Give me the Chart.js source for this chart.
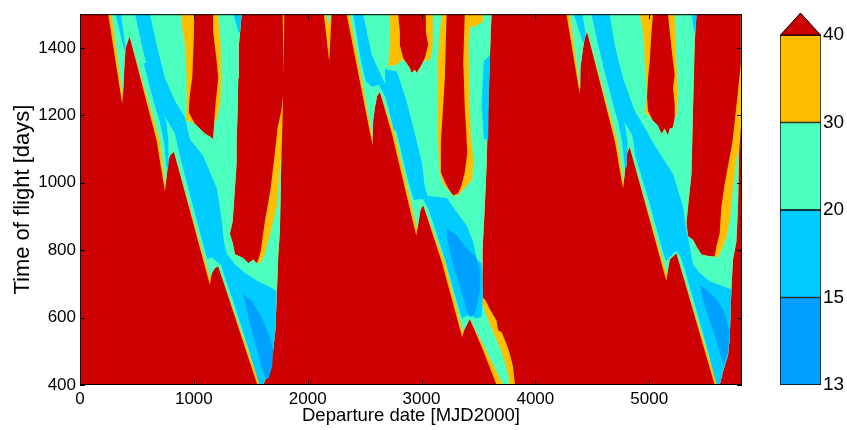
<!DOCTYPE html>
<html>
<head>
<meta charset="utf-8">
<script src="https://cdn.jsdelivr.net/npm/chart.js@4.4.0/dist/chart.umd.min.js"></script>
<style>
  html, body { margin: 0; padding: 0; background: #fff; }
  #quadro { position: relative; width: 847px; height: 430px; }
  #mapa { position: absolute; left: 0; top: 0; }
  #barraCores { position: absolute; left: 770px; top: 0; }
</style>
</head>
<body>
<div id="quadro">
  <canvas id="mapa" width="847" height="430" style="width:847px;height:430px"></canvas>
  <canvas id="barraCores" width="77" height="430" style="width:77px;height:430px"></canvas>
</div>
<script>
// Eixos
const ticksPartida = [0, 1000, 2000, 3000, 4000, 5000];
const ticksVoo = [400, 600, 800, 1000, 1200, 1400];
const niveis = ['13', '15', '20', '30', '40'];

// Contornos: [data de partida (MJD2000), tempo de voo (dias)]
// Janela 1
const j1Abaixo40 = [[248,1500],[371,1233],[389,1340],[400,1399],[435,1434],[673,1125],[746,973],[775,1061],[790,1081],[825,1092],[1141,697],[1156,729],[1185,747],[1214,752],[1558,400],[1609,400],[1639,423],[1677,465],[1697,503],[1716,562],[1727,650],[1741,782],[1756,855],[1765,1002],[1771,1090],[1785,1261],[1769,1214],[1736,1164],[1712,1090],[1674,982],[1624,885],[1587,796],[1567,773],[1551,761],[1522,772],[1478,761],[1434,777],[1361,788],[1343,820],[1317,849],[1341,885],[1361,982],[1376,1061],[1376,1125],[1385,1214],[1390,1311],[1396,1410],[1407,1449],[1420,1500],[1170,1500],[1170,1449],[1200,1361],[1214,1311],[1191,1234],[1179,1184],[1170,1129],[1141,1137],[1098,1145],[1054,1160],[1010,1174],[957,1208],[957,1223],[966,1263],[986,1311],[998,1410],[1004,1500]];
const j1Fio40 = [[1780,1500],[1794,1500],[1790,1320],[1786,1320]];
const j1Abaixo30 = [[277,1500],[378,1252],[389,1340],[400,1399],[435,1434],[700,1125],[751,990],[775,1061],[790,1081],[825,1092],[1146,714],[1156,729],[1185,747],[1214,752],[1580,400],[1602,400],[1639,423],[1677,465],[1697,503],[1716,562],[1727,650],[1741,782],[1756,855],[1765,1002],[1768,1081],[1752,1031],[1727,929],[1686,870],[1653,826],[1616,782],[1580,761],[1551,761],[1522,772],[1478,761],[1434,777],[1361,788],[1343,820],[1317,849],[1341,885],[1361,982],[1376,1061],[1376,1125],[1385,1214],[1390,1311],[1396,1410],[1407,1449],[1420,1500],[1212,1500],[1225,1457],[1234,1410],[1242,1311],[1232,1234],[1203,1193],[1181,1178],[1170,1129],[1141,1137],[1098,1145],[1054,1160],[1010,1174],[957,1184],[928,1184],[937,1222],[937,1311],[922,1410],[898,1457],[887,1500]];
const j1Abaixo20a = [[312,1500],[360,1500],[400,1407],[391,1390]];
const j1Abaixo20b = [[558,1355],[650,1237],[702,1178],[738,1120],[759,1046],[777,1046],[777,1120],[761,1178],[702,1237],[597,1355]];
const j1Abaixo20c = [[483,1500],[542,1409],[615,1311],[717,1213],[834,1145],[860,1105],[887,1067],[983,943],[1099,796],[1119,773],[1159,779],[1214,763],[1242,755],[1260,732],[1345,650],[1484,503],[1576,400],[1609,400],[1639,423],[1677,465],[1697,503],[1716,562],[1725,650],[1725,679],[1686,688],[1563,708],[1449,732],[1361,758],[1291,788],[1264,826],[1247,885],[1203,982],[1080,1081],[966,1129],[922,1194],[834,1243],[746,1311],[673,1409],[615,1500]];
const j1Abaixo20d = [[1346,1500],[1420,1500],[1407,1449],[1396,1443]];
const j1Abaixo15 = [[1434,669],[1493,581],[1566,493],[1609,434],[1633,418],[1659,421],[1688,454],[1697,503],[1668,542],[1595,601],[1508,650]];

// Janela 2
const j2Fio40 = [[2142,1500],[2210,1500],[2189,1360]];
const j2Fio30 = [[2164,1500],[2204,1500],[2186,1466]];
const j2Abaixo40 = [[2342,1500],[2570,1110],[2575,1183],[2590,1222],[2610,1257],[2634,1269],[2737,1149],[2954,843],[2979,894],[2991,919],[3014,934],[3176,767],[3357,542],[3380,567],[3409,586],[3424,596],[3541,503],[3659,400],[3828,400],[3819,405],[3804,454],[3775,493],[3746,522],[3703,557],[3673,562],[3659,591],[3600,625],[3565,650],[3541,659],[3527,689],[3536,738],[3536,796],[3541,832],[3556,929],[3571,1046],[3585,1222],[3600,1369],[3615,1500],[3380,1500],[3372,1419],[3367,1355],[3380,1222],[3393,1149],[3402,1090],[3380,1031],[3351,992],[3322,968],[3278,963],[3234,984],[3205,1002],[3170,1031],[3170,1120],[3187,1213],[3205,1310],[3213,1410],[3220,1500],[3038,1500],[3038,1448],[3058,1409],[3029,1370],[2985,1341],[2956,1326],[2941,1336],[2912,1326],[2897,1341],[2839,1370],[2810,1409],[2810,1448],[2795,1500]];
const j2Abaixo30 = [[2368,1500],[2573,1128],[2575,1183],[2590,1222],[2610,1257],[2634,1269],[2761,1149],[2963,861],[2979,894],[2991,919],[3014,934],[3202,767],[3363,559],[3380,567],[3409,586],[3424,596],[3565,503],[3717,400],[3767,400],[3767,421],[3732,468],[3696,503],[3657,535],[3613,570],[3565,612],[3530,644],[3525,673],[3527,689],[3536,738],[3536,796],[3541,832],[3556,929],[3571,1046],[3585,1222],[3600,1369],[3615,1500],[3541,1500],[3541,1478],[3477,1466],[3424,1460],[3415,1413],[3420,1237],[3433,1143],[3459,1061],[3442,1008],[3367,979],[3322,963],[3278,961],[3234,979],[3187,996],[3161,1026],[3148,1090],[3139,1149],[3139,1237],[3143,1355],[3161,1443],[3178,1500],[3102,1500],[3099,1410],[3082,1372],[3055,1360],[3029,1366],[2985,1340],[2956,1325],[2941,1335],[2912,1325],[2897,1340],[2839,1366],[2775,1349],[2709,1346],[2722,1410],[2722,1500]];
const j2Abaixo20a = [[2400,1500],[2471,1355],[2511,1302],[2564,1284],[2625,1290],[2687,1252],[2757,1155],[2818,1155],[2739,1252],[2660,1308],[2564,1378],[2487,1500]];
const j2Abaixo20b = [[2678,1337],[2687,1252],[2781,1149],[2885,1002],[2933,949],[3012,952],[3060,923],[3140,841],[3211,767],[3282,679],[3354,597],[3424,609],[3477,597],[3527,601],[3541,669],[3536,738],[3527,761],[3486,773],[3453,826],[3395,875],[3307,914],[3222,955],[3055,961],[3029,987],[3003,1061],[2956,1125],[2868,1243],[2783,1331]];
const j2Abaixo20c = [[3547,1360],[3602,1378],[3591,1237],[3585,1125],[3547,1131],[3527,1237]];
const j2Abaixo15 = [[3220,866],[3231,826],[3249,796],[3293,738],[3351,679],[3395,625],[3424,601],[3459,608],[3483,630],[3512,679],[3512,738],[3483,777],[3395,806],[3307,845]];

// Janela 3
const j3Abaixo40 = [[4273,1500],[4390,1262],[4396,1341],[4419,1399],[4434,1429],[4454,1448],[4697,1125],[4770,982],[4785,1026],[4800,1085],[4829,1105],[5151,708],[5180,772],[5239,791],[5575,400],[5619,400],[5648,439],[5692,488],[5707,537],[5722,684],[5736,772],[5766,826],[5780,929],[5790,1090],[5817,1222],[5817,1500],[5804,1500],[5804,1354],[5777,1263],[5733,1125],[5698,1061],[5663,997],[5634,929],[5619,850],[5590,811],[5575,782],[5531,782],[5459,787],[5415,811],[5385,831],[5341,841],[5327,880],[5341,929],[5371,1026],[5385,1222],[5400,1418],[5415,1500],[5165,1500],[5180,1448],[5209,1360],[5224,1321],[5209,1282],[5224,1233],[5224,1194],[5209,1164],[5180,1160],[5165,1140],[5136,1160],[5107,1145],[5077,1169],[5033,1184],[4990,1213],[4981,1253],[4990,1311],[5005,1360],[5020,1448],[5033,1500]];
const j3Abaixo30 = [[4300,1500],[4394,1278],[4396,1341],[4419,1399],[4434,1429],[4454,1448],[4719,1125],[4775,999],[4785,1026],[4800,1085],[4829,1105],[5156,726],[5180,772],[5239,791],[5597,400],[5619,400],[5648,439],[5692,488],[5707,537],[5722,684],[5736,772],[5766,826],[5780,929],[5789,1105],[5760,1061],[5733,973],[5712,899],[5681,840],[5637,802],[5602,779],[5531,782],[5459,787],[5415,811],[5385,831],[5341,841],[5327,880],[5341,929],[5371,1026],[5385,1222],[5400,1418],[5415,1500],[5224,1500],[5239,1360],[5253,1263],[5242,1202],[5224,1190],[5209,1164],[5180,1160],[5165,1140],[5136,1160],[5107,1145],[5077,1169],[5033,1184],[4990,1202],[4961,1208],[4981,1262],[4961,1360],[4946,1448],[4917,1500]];
const j3Abaixo20a = [[4337,1500],[4414,1500],[4443,1437],[4421,1413]];
const j3Abaixo20b = [[4588,1355],[4680,1237],[4728,1178],[4763,1120],[4785,1046],[4803,1046],[4811,1120],[4785,1178],[4732,1237],[4627,1355]];
const j3Abaixo20c = [[4493,1500],[4551,1409],[4624,1311],[4726,1213],[4844,1145],[4864,1120],[4873,1084],[5000,943],[5119,796],[5149,767],[5189,782],[5239,799],[5277,779],[5316,738],[5391,650],[5514,503],[5593,400],[5619,400],[5648,439],[5692,488],[5707,537],[5722,684],[5678,689],[5531,708],[5444,732],[5385,758],[5356,811],[5321,870],[5297,929],[5209,1026],[5022,1125],[4961,1164],[4873,1213],[4770,1310],[4697,1409],[4653,1500]];
const j3Abaixo20d = [[5371,1500],[5415,1500],[5409,1460],[5400,1440]];
const j3Abaixo15 = [[5444,694],[5488,635],[5546,576],[5604,518],[5634,478],[5654,459],[5692,498],[5707,557],[5663,615],[5590,655],[5502,684]];

// Cores (jet) por faixa
const corAcima40 = '#CC0000';
const coresFaixas = ['#00A0FF', '#00CCFF', '#4DFFBE', '#FFBF00']; // 13-15, 15-20, 20-30, 30-40

// Camadas pintadas de fora para dentro
const camadas = [
  { cor: coresFaixas[3], regioes: [j1Abaixo40, j1Fio40, j2Abaixo40, j2Fio40, j3Abaixo40] },
  { cor: coresFaixas[2], regioes: [j1Abaixo30, j2Abaixo30, j2Fio30, j3Abaixo30] },
  { cor: coresFaixas[1], regioes: [j1Abaixo20a, j1Abaixo20b, j1Abaixo20c, j1Abaixo20d, j2Abaixo20a, j2Abaixo20b, j2Abaixo20c, j3Abaixo20a, j3Abaixo20b, j3Abaixo20c, j3Abaixo20d] },
  { cor: coresFaixas[0], regioes: [j1Abaixo15, j2Abaixo15, j3Abaixo15] }
];

const conjuntos = [];
camadas.forEach(function(camada, n) {
  camada.regioes.forEach(function(regiao) {
    conjuntos.push({
      data: regiao.map(p => ({ x: p[0], y: p[1] })),
      showLine: true,
      fill: 'shape',
      backgroundColor: camada.cor,
      borderColor: 'rgba(0,0,0,0)',
      borderWidth: 0,
      pointRadius: 0,
      pointHoverRadius: 0,
      tension: 0,
      order: camadas.length - n
    });
  });
});

Chart.defaults.font.family = '"Liberation Sans", Arial, Helvetica, sans-serif';
Chart.defaults.color = '#000';

// Fundo: tudo acima de 40
const fundo = {
  id: 'fundo',
  beforeDatasetsDraw(chart) {
    const { ctx, chartArea: a } = chart;
    ctx.save();
    ctx.fillStyle = corAcima40;
    ctx.fillRect(a.left, a.top, a.right - a.left, a.bottom - a.top);
    ctx.restore();
  }
};

// Moldura com ticks para dentro (estilo MATLAB)
const moldura = {
  id: 'moldura',
  afterDraw(chart) {
    const { ctx, chartArea: a, scales } = chart;
    ctx.save();
    ctx.strokeStyle = '#000';
    ctx.lineWidth = 1;
    ctx.strokeRect(a.left + 0.5, a.top + 0.5, a.right - a.left - 1, a.bottom - a.top - 1);
    ctx.beginPath();
    ticksPartida.forEach(function(v) {
      const px = Math.round(scales.x.getPixelForValue(v)) + 0.5;
      ctx.moveTo(px, a.bottom); ctx.lineTo(px, a.bottom - 5);
      ctx.moveTo(px, a.top); ctx.lineTo(px, a.top + 5);
    });
    ticksVoo.forEach(function(v) {
      const py = Math.round(scales.y.getPixelForValue(v)) + 0.5;
      ctx.moveTo(a.left, py); ctx.lineTo(a.left + 5, py);
      ctx.moveTo(a.right, py); ctx.lineTo(a.right - 5, py);
    });
    ctx.stroke();
    ctx.restore();
  }
};

const mapa = new Chart(document.getElementById('mapa'), {
  type: 'scatter',
  data: { datasets: conjuntos },
  options: {
    responsive: false,
    animation: false,
    events: [],
    layout: { padding: { top: 10, right: 105, bottom: 0, left: 0 } },
    plugins: { legend: { display: false }, tooltip: { enabled: false } },
    scales: {
      x: {
        type: 'linear', min: 0, max: 5815,
        afterBuildTicks: s => { s.ticks = ticksPartida.map(v => ({ value: v })); },
        ticks: { font: { size: 17 }, padding: 4, maxRotation: 0, autoSkip: false, callback: v => String(v) },
        grid: { display: false, drawTicks: false },
        border: { display: false },
        title: { display: true, text: 'Departure date [MJD2000]', font: { size: 18.5 }, padding: { top: 0, bottom: 3 } },
        afterFit: s => { s.height = 45; }
      },
      y: {
        type: 'linear', min: 400, max: 1500,
        afterBuildTicks: s => { s.ticks = ticksVoo.map(v => ({ value: v })); },
        ticks: { font: { size: 17 }, padding: 4, autoSkip: false, callback: v => String(v) },
        grid: { display: false, drawTicks: false },
        border: { display: false },
        title: { display: true, text: 'Time of flight [days]', font: { size: 22 }, padding: { top: 10, bottom: 0 } },
        afterFit: s => { s.width = 80; }
      }
    }
  },
  plugins: [fundo, moldura]
});

// Barra de cores
const triangulo = {
  id: 'triangulo',
  afterDatasetsDraw(chart) {
    const { ctx, chartArea: a } = chart;
    ctx.save();
    ctx.beginPath();
    ctx.moveTo(a.left + 0.5, a.top);
    ctx.lineTo((a.left + a.right) / 2, a.top - 22);
    ctx.lineTo(a.right - 0.5, a.top);
    ctx.closePath();
    ctx.fillStyle = corAcima40;
    ctx.fill();
    ctx.strokeStyle = '#000';
    ctx.lineWidth = 1;
    ctx.stroke();
    ctx.restore();
  }
};

const barra = new Chart(document.getElementById('barraCores'), {
  type: 'bar',
  data: {
    labels: [''],
    datasets: coresFaixas.map(cor => ({
      data: [1],
      backgroundColor: cor,
      borderColor: '#000',
      borderWidth: 1,
      borderSkipped: false,
      barPercentage: 1,
      categoryPercentage: 1
    }))
  },
  options: {
    responsive: false,
    animation: false,
    events: [],
    layout: { padding: { top: 35, bottom: 45, left: 10, right: 0 } },
    plugins: { legend: { display: false }, tooltip: { enabled: false } },
    scales: {
      x: { display: false, stacked: true },
      y: {
        stacked: true, position: 'right', min: 0, max: niveis.length - 1,
        afterBuildTicks: s => { s.ticks = niveis.map((_, i) => ({ value: i })); },
        ticks: { font: { size: 19 }, padding: 2, autoSkip: false, callback: (v, i) => niveis[i] },
        grid: { display: false, drawTicks: false },
        border: { display: false },
        afterFit: s => { s.width = 26; }
      }
    }
  },
  plugins: [triangulo]
});
</script>
</body>
</html>
